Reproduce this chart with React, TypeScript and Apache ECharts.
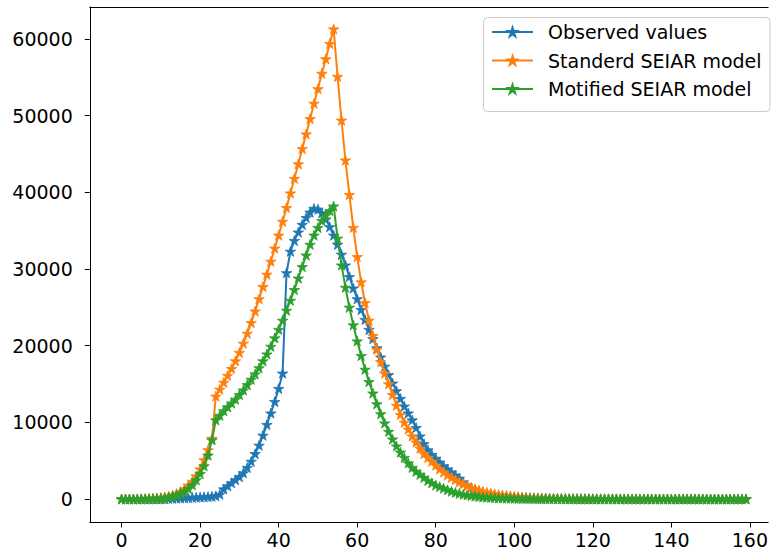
import React, { useEffect, useRef } from "react";
import * as echarts from "echarts";

const seriesNames = ["Observed values", "Standerd SEIAR model", "Motified SEIAR model"];
const colors = ["#1f77b4", "#ff7f0e", "#2ca02c"];

const xTicks = [0, 20, 40, 60, 80, 100, 120, 140, 160];
const yTicks = [0, 10000, 20000, 30000, 40000, 50000, 60000];

// daily values, day 0 .. 159
const observed = [
  0, 0, 0, 0, 0, 0, 0, 0, 0, 0,
  0, 0, 60, 80, 100, 120, 150, 170, 200, 220,
  250, 280, 300, 350, 400, 600, 1300, 1700, 2100, 2500,
  2900, 3400, 4100, 4900, 5900, 7000, 8300, 9700, 11200, 12700,
  14400, 16400, 29500, 32300, 33700, 34800, 35800, 36700, 37400, 37900,
  37800, 37300, 36500, 35500, 34400, 33200, 31900, 30500, 29000, 27500,
  26100, 24700, 23400, 22100, 20900, 19700, 18500, 17300, 16200, 15100,
  14100, 13100, 12100, 11200, 10300, 9300, 8200, 7200, 6400, 5800,
  5300, 4800, 4300, 3900, 3500, 3100, 2700, 2200, 1800, 1450,
  1200, 1000, 850, 700, 600, 500, 430, 370, 320, 280,
  240, 210, 180, 150, 130, 110, 90, 80, 70, 60,
  50, 45, 40, 35, 30, 28, 26, 24, 22, 20,
  18, 16, 15, 14, 13, 12, 11, 10, 9, 8,
  8, 7, 7, 6, 6, 5, 5, 5, 4, 4,
  4, 3, 3, 3, 3, 2, 2, 2, 2, 2,
  2, 1, 1, 1, 1, 1, 1, 1, 1, 1,
];

const standard = [
  0, 0, 0, 0, 10, 20, 40, 60, 90, 130,
  180, 250, 350, 500, 700, 950, 1300, 1800, 2300, 3000,
  3900, 5100, 6400, 7900, 13400, 14300, 15200, 16100, 17000, 18000,
  19100, 20300, 21600, 23000, 24500, 26100, 27700, 29300, 31000, 32700,
  34400, 36200, 38000, 39900, 41800, 43700, 45700, 47600, 49600, 51600,
  53500, 55500, 57400, 59400, 61300, 55100, 49400, 44200, 39700, 35400,
  31600, 28300, 25600, 23300, 21300, 19500, 17900, 16400, 15000, 13600,
  12200, 11000, 10000, 9100, 8200, 7400, 6600, 5900, 5400, 4900,
  4400, 3900, 3500, 3100, 2800, 2500, 2200, 1950, 1700, 1500,
  1300, 1150, 1000, 880, 770, 670, 590, 520, 460, 400,
  350, 300, 260, 230, 200, 170, 150, 130, 110, 95,
  80, 70, 60, 52, 45, 40, 35, 30, 26, 23,
  20, 18, 16, 14, 12, 11, 10, 9, 8, 7,
  6, 6, 5, 5, 4, 4, 4, 3, 3, 3,
  3, 2, 2, 2, 2, 2, 1, 1, 1, 1,
  1, 1, 1, 1, 1, 1, 1, 1, 1, 1,
];

const modified = [
  0, 0, 0, 0, 0, 10, 20, 30, 50, 70,
  100, 150, 250, 380, 530, 720, 980, 1350, 1850, 2500,
  3300, 4300, 5700, 7700, 10300, 10900, 11500, 12000, 12500, 13000,
  13600, 14200, 14900, 15600, 16300, 17100, 18000, 18900, 19900, 21000,
  22100, 23300, 24600, 25900, 27300, 28800, 30300, 31800, 33200, 34400,
  35400, 36300, 37000, 37600, 38200, 34000, 30500, 27600, 25000, 22700,
  20600, 18700, 16900, 15300, 13800, 12400, 11100, 9900, 8800, 7800,
  6900, 6100, 5400, 4700, 4100, 3600, 3200, 2800, 2400, 2100,
  1800, 1600, 1400, 1200, 1000, 850, 720, 610, 520, 440,
  370, 310, 260, 220, 190, 160, 140, 120, 100, 90,
  80, 70, 60, 55, 50, 45, 40, 36, 32, 29,
  26, 23, 21, 19, 17, 15, 14, 12, 11, 10,
  9, 8, 7, 7, 6, 5, 5, 4, 4, 4,
  3, 3, 3, 3, 2, 2, 2, 2, 2, 2,
  1, 1, 1, 1, 1, 1, 1, 1, 1, 1,
  1, 1, 1, 1, 1, 1, 1, 1, 1, 1,
];

const STAR =
  "path://M0,-100 L22.45,-30.9 L95.1,-30.9 L36.3,11.8 L58.8,80.9 L0,38.2 L-58.8,80.9 L-36.3,11.8 L-95.1,-30.9 L-22.45,-30.9 Z";

const FONT = "DejaVu Sans";
const FONT_SIZE = 19;
const X_MIN = -8.1;
const X_MAX = 164.66;

export default function App() {
  const ref = useRef<HTMLDivElement>(null);

  useEffect(() => {
    if (!ref.current) return;
    const chart = echarts.init(ref.current, undefined, { renderer: "svg" });
    const allSeries = [observed, standard, modified];

    chart.setOption({
      animation: false,
      backgroundColor: "#ffffff",
      grid: {
        left: 89.8,
        top: 7,
        right: 0,
        height: 515.5,
        show: false,
        containLabel: false,
      },
      xAxis: [
        {
          type: "value",
          min: X_MIN,
          max: X_MAX,
          position: "bottom",
          axisLine: { show: true, onZero: false, lineStyle: { color: "#000000", width: 1 } },
          axisTick: {
            show: true,
            inside: false,
            length: 5,
            customValues: xTicks,
            lineStyle: { color: "#000000", width: 1 },
          },
          axisLabel: {
            customValues: xTicks,
            margin: 8,
            color: "#000000",
            fontFamily: FONT,
            fontSize: FONT_SIZE,
            formatter: (v: number) => String(v),
          },
          splitLine: { show: false },
        },
        {
          type: "value",
          min: X_MIN,
          max: X_MAX,
          position: "top",
          axisLine: { show: true, onZero: false, lineStyle: { color: "#000000", width: 1 } },
          axisTick: { show: false },
          axisLabel: { show: false },
          splitLine: { show: false },
        },
      ],
      yAxis: {
        type: "value",
        min: -3065,
        max: 64174,
        axisLine: { show: true, onZero: false, lineStyle: { color: "#000000", width: 1 } },
        axisTick: {
          show: true,
          inside: false,
          length: 5,
          customValues: yTicks,
          lineStyle: { color: "#000000", width: 1 },
        },
        axisLabel: {
          customValues: yTicks,
          margin: 17,
          color: "#000000",
          fontFamily: FONT,
          fontSize: FONT_SIZE,
          formatter: (v: number) => String(v),
        },
        splitLine: { show: false },
      },
      legend: {
        orient: "vertical",
        left: 491,
        top: 22.5,
        padding: 0,
        itemWidth: 41,
        itemHeight: 11,
        itemGap: 9.5,
        data: seriesNames,
        textStyle: {
          color: "#000000",
          fontFamily: FONT,
          fontSize: FONT_SIZE,
          padding: [0, 0, 0, 10],
        },
      },
      graphic: [
        {
          type: "rect",
          left: 483,
          top: 17,
          z: 0,
          shape: { width: 286.5, height: 94, r: 4 },
          style: { fill: "rgba(255,255,255,0.8)", stroke: "#cccccc", lineWidth: 1 },
        },
      ],
      series: allSeries.map((arr, i) => ({
        name: seriesNames[i],
        type: "line",
        xAxisIndex: 0,
        data: arr.map((v, d) => [d, v]),
        symbol: STAR,
        symbolSize: 10.5,
        symbolKeepAspect: true,
        showSymbol: true,
        showAllSymbol: true,
        color: colors[i],
        lineStyle: { color: colors[i], width: 2 },
        itemStyle: { color: colors[i], borderColor: colors[i], borderWidth: 0.8 },
        emphasis: { disabled: true },
        z: 2 + i,
      })),
    });

    return () => chart.dispose();
  }, []);

  return (
    <div
      ref={ref}
      style={{ position: "fixed", left: 0, top: 0, width: 771, height: 554 }}
    />
  );
}
